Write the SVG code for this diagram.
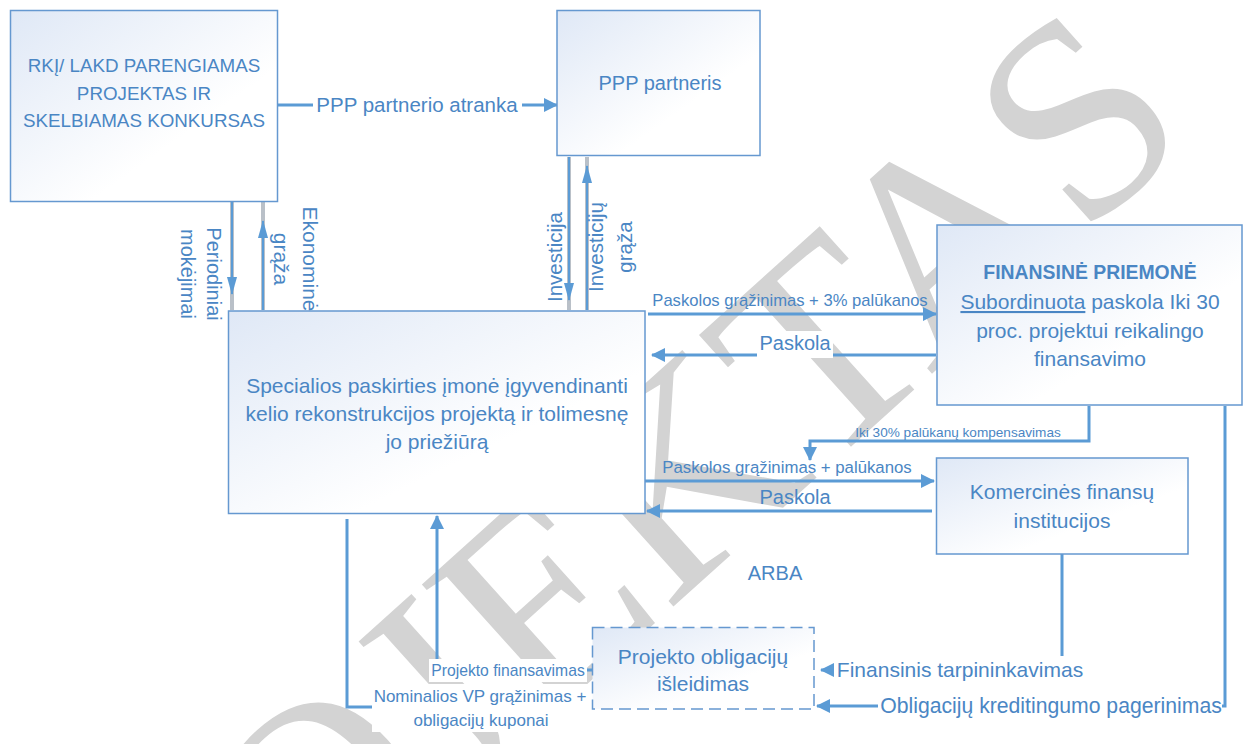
<svg xmlns="http://www.w3.org/2000/svg" width="1246" height="744" viewBox="0 0 1246 744">
  <defs>
    <linearGradient id="boxFill" x1="0" y1="0" x2="1" y2="1">
      <stop offset="0" stop-color="#dfe8f6"/>
      <stop offset="0.65" stop-color="#ffffff"/>
    </linearGradient>
    <marker id="arrow" viewBox="0 0 14 14" refX="13" refY="7" markerWidth="14" markerHeight="14" markerUnits="userSpaceOnUse" orient="auto">
      <path d="M0,0 L14,7 L0,14 z" fill="#5b9bd5"/>
    </marker>
    <marker id="arrowThin" viewBox="0 0 18 10" refX="17" refY="5" markerWidth="18" markerHeight="10" markerUnits="userSpaceOnUse" orient="auto">
      <path d="M0,0 L18,5 L0,10 z" fill="#5b9bd5"/>
    </marker>
    <style>
      .box { fill: url(#boxFill); stroke: #6598d0; stroke-width: 1.5; }
      .dash { stroke-dasharray: 12 6; }
      .t { font-family: "Liberation Sans", Arial, sans-serif; fill: #4a86c4; text-anchor: middle; }
      .conn { fill: none; stroke: #5b9bd5; stroke-width: 3; }
      .shade { fill: none; stroke: #b9c0c8; stroke-width: 4; }
      .thin { fill: none; stroke: #5b9bd5; stroke-width: 2; }
      .bg { fill: #ffffff; }
      .wm { font-family: "Liberation Serif", "Times New Roman", serif; fill: #d3d3d3; text-anchor: middle; }
    </style>
  </defs>

  <rect width="1246" height="744" fill="#ffffff"/>

  <!-- background watermark -->
  <text class="wm" font-size="282" transform="translate(624,651) rotate(-42)">PROJEKTAS</text>

  <!-- connectors -->
  <g id="connectors">
    <path class="conn" d="M278,105 H557" marker-end="url(#arrow)"/>

    <path class="shade" d="M232,202 V310"/>
    <path class="thin" d="M232,202 V294" marker-end="url(#arrowThin)"/>
    <path class="shade" d="M263,310 V202"/>
    <path class="thin" d="M263,310 V221" marker-end="url(#arrowThin)"/>

    <path class="shade" d="M569,157 V310"/>
    <path class="thin" d="M569,157 V300" marker-end="url(#arrowThin)"/>
    <path class="shade" d="M587,310 V157"/>
    <path class="thin" d="M587,310 V166" marker-end="url(#arrowThin)"/>

    <path class="conn" d="M648,314 H936" marker-end="url(#arrow)"/>
    <path class="conn" d="M936,355 H652" marker-end="url(#arrow)"/>
    <path class="conn" d="M1089,406 V441 H810 V460" marker-end="url(#arrow)"/>
    <path class="conn" d="M645,481 H934" marker-end="url(#arrow)"/>
    <path class="conn" d="M932,511 H647" marker-end="url(#arrow)"/>

    <path class="conn" d="M1062,554 V670 H821" marker-end="url(#arrow)"/>
    <path class="conn" d="M1225,406 V706 H817" marker-end="url(#arrow)"/>

    <path class="conn" d="M592,670 H437 V516" marker-end="url(#arrow)"/>
    <path class="conn" d="M380,707 H347 V519"/>
  </g>

  <!-- connector labels -->
  <g id="labels">
    <rect class="bg" x="313" y="93" width="209" height="24"/>
    <text class="t" x="417" y="112" font-size="20.5">PPP partnerio atranka</text>

    <text class="t" font-size="20" transform="translate(207,274) rotate(90)">Periodiniai<tspan x="0" dy="26">mokėjimai</tspan></text>
    <text class="t" font-size="21" transform="translate(303,259) rotate(90)">Ekonominė<tspan x="0" dy="29">grąža</tspan></text>

    <text class="t" font-size="20.5" transform="translate(562,257) rotate(-90)">Investicija</text>
    <text class="t" font-size="20.5" transform="translate(603,247) rotate(-90)">Investicijų<tspan x="0" dy="29">grąža</tspan></text>

    <text class="t" x="790" y="306" font-size="16.6">Paskolos grąžinimas + 3% palūkanos</text>
    <rect class="bg" x="757" y="331" width="76" height="27"/>
    <text class="t" x="795" y="350" font-size="20">Paskola</text>
    <text class="t" x="958" y="437" font-size="13.6">Iki 30% palūkanų kompensavimas</text>
    <text class="t" x="787" y="473" font-size="16.8">Paskolos grąžinimas + palūkanos</text>
    <text class="t" x="795" y="504" font-size="20">Paskola</text>
    <text class="t" x="775" y="580" font-size="20">ARBA</text>

    <rect class="bg" x="834" y="656" width="252" height="28"/>
    <text class="t" x="960" y="677" font-size="21">Finansinis tarpininkavimas</text>
    <rect class="bg" x="878" y="692" width="344" height="28"/>
    <text class="t" x="1051" y="713" font-size="21.2">Obligacijų kreditingumo pagerinimas</text>

    <rect class="bg" x="429" y="659" width="158" height="23"/>
    <text class="t" x="508" y="676" font-size="15.7">Projekto finansavimas</text>
    <rect class="bg" x="372" y="684" width="218" height="48"/>
    <text class="t" x="480" y="702" font-size="17">Nominalios VP grąžinimas +<tspan x="481" dy="24">obligacijų kuponai</tspan></text>
  </g>

  <!-- nodes -->
  <g id="node-rkj">
    <rect class="box" x="10.5" y="10.5" width="267" height="191"/>
    <text class="t" x="144" y="72" font-size="18.8">RKĮ/ LAKD PARENGIAMAS<tspan x="144" dy="28">PROJEKTAS IR</tspan><tspan x="144" dy="27">SKELBIAMAS KONKURSAS</tspan></text>
  </g>

  <g id="node-ppp">
    <rect class="box" x="557" y="10.5" width="203" height="145"/>
    <text class="t" x="660" y="90" font-size="20">PPP partneris</text>
  </g>

  <g id="node-spv">
    <rect class="box" x="228.5" y="311" width="416.5" height="202.5"/>
    <text class="t" x="437" y="393" font-size="21">Specialios paskirties įmonė įgyvendinanti<tspan x="437" dy="28">kelio rekonstrukcijos projektą ir tolimesnę</tspan><tspan x="437" dy="28">jo priežiūrą</tspan></text>
  </g>

  <g id="node-finansine">
    <rect class="box" x="937" y="225" width="305" height="180"/>
    <text class="t" x="1090" y="279" font-size="19.4" font-weight="bold">FINANSINĖ PRIEMONĖ</text>
    <text class="t" x="1090" y="309" font-size="21"><tspan text-decoration="underline">Subordinuota</tspan> paskola Iki 30<tspan x="1090" dy="28.5">proc. projektui reikalingo</tspan><tspan x="1090" dy="28.5">finansavimo</tspan></text>
  </g>

  <g id="node-komercines">
    <rect class="box" x="936.5" y="458" width="251.5" height="96"/>
    <text class="t" x="1062" y="499" font-size="21">Komercinės finansų<tspan x="1062" dy="29">institucijos</tspan></text>
  </g>

  <g id="node-obligacijos">
    <rect class="box dash" x="592.5" y="627.5" width="221.5" height="81.5"/>
    <text class="t" x="703" y="664" font-size="21">Projekto obligacijų<tspan x="703" dy="27">išleidimas</tspan></text>
  </g>
</svg>
